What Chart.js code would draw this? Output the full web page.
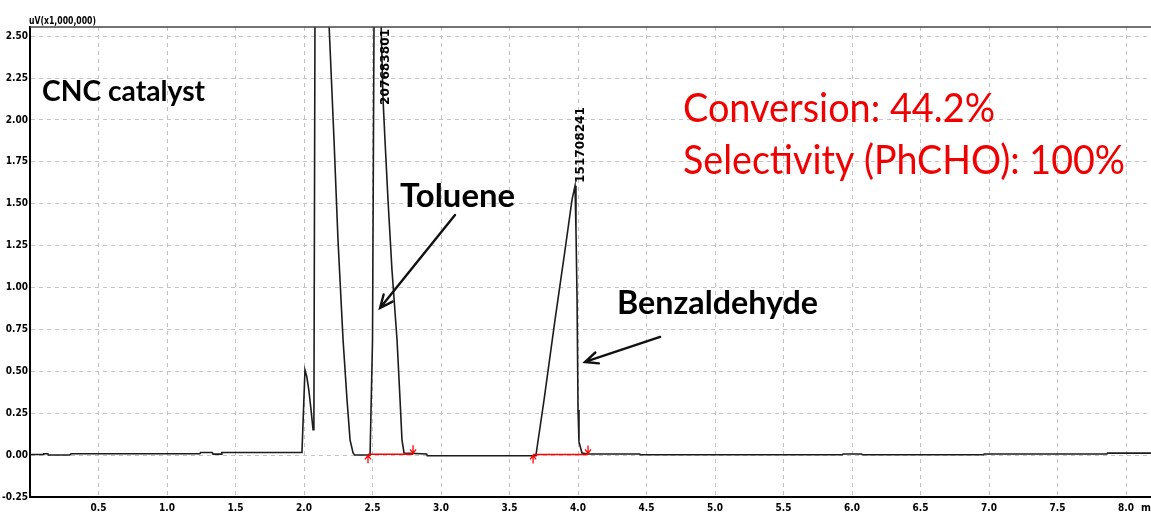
<!DOCTYPE html>
<html>
<head>
<meta charset="utf-8">
<script src="https://cdn.jsdelivr.net/npm/chart.js@4.4.0/dist/chart.umd.min.js"></script>
<style>
  html, body { margin: 0; padding: 0; background: #fff; }
  canvas { display: block; }
</style>
</head>
<body>
<canvas id="gc" width="1151" height="514"></canvas>
<script>

/*
** Chromatogram trace (retention time in min, signal in uV x 1,000,000)
*/
var times = [
    0.000, 0.095, 0.100, 0.130, 0.135, 0.290, 0.300, 1.240, 1.245, 1.330,
    1.336, 1.395, 1.400, 1.985, 2.007, 2.020, 2.035, 2.050, 2.066, 2.072,
    2.080, 2.130, 2.180, 2.197, 2.219, 2.248, 2.285, 2.314, 2.336, 2.358,
    2.370, 2.482, 2.500, 2.511, 2.540, 2.561, 2.577, 2.591, 2.613, 2.642,
    2.679, 2.701, 2.715, 2.730, 2.895, 2.900, 3.686, 3.693, 3.752, 3.832,
    3.905, 3.956, 3.978, 3.985, 3.993, 4.000, 4.007, 4.029, 4.073, 4.450,
    4.455, 5.930, 5.935, 6.070, 6.075, 6.960, 6.965, 7.860, 7.865, 8.200
];
var signal = [
    0.004, 0.004, 0.008, 0.008, 0.001, 0.001, 0.008, 0.008, 0.016, 0.016,
    0.006, 0.006, 0.016, 0.016, 0.508, 0.470, 0.390, 0.280, 0.151, 0.160,
    2.600, 4.500, 2.620, 2.299, 1.881, 1.284, 0.687, 0.329, 0.091, 0.013,
    0.001, 0.001, 0.687, 2.600, 4.200, 2.620, 2.120, 1.881, 1.523, 1.105,
    0.687, 0.329, 0.091, 0.013, 0.007, -0.004, -0.004, 0.001, 0.329, 0.807,
    1.224, 1.523, 1.607, 1.344, 0.926, 0.269, 0.079, 0.013, 0.007, 0.007,
    0.002, 0.002, 0.007, 0.007, 0.002, 0.002, 0.007, 0.007, 0.012, 0.012
];

/*
** Axis ticks
*/
var xTicks = [0.5, 1.0, 1.5, 2.0, 2.5, 3.0, 3.5, 4.0, 4.5, 5.0, 5.5, 6.0, 6.5, 7.0, 7.5, 8.0];
var yTicks = [-0.25, 0.00, 0.25, 0.50, 0.75, 1.00, 1.25, 1.50, 1.75, 2.00, 2.25, 2.50];

/*
** Integrated peaks
*/
var peakNames = ["Toluene", "Benzaldehyde"];
var peakAreas = ["207683801", "151708241"];
var peakStart = [2.467, 3.672];
var peakEnd = [2.796, 4.073];
var peakBase = [0.005, 0.004];

var conversion = 44.2;
var selectivity = 100;

/*
** Where the notes go (data units)
*/
var notes = [
    { text: "CNC catalyst", t: 0.088, v: 2.113, w: 163, font: "bold 29px Lato", color: "#000" },
    { text: peakNames[0], t: 2.701, v: 1.481, w: 115, font: "bold 32px Lato", color: "#000" },
    { text: peakNames[1], t: 4.285, v: 0.842, w: 201, font: "bold 32px Lato", color: "#000" },
    { text: "Conversion: " + conversion.toFixed(1) + "%", t: 4.766, v: 1.988, w: 312, font: "40px Lato", color: "#f00000" },
    { text: "Selectivity (PhCHO): " + selectivity + "%", t: 4.766, v: 1.678, w: 442, font: "40px Lato", color: "#f00000" }
];
var arrows = [
    { t1: 3.102, v1: 1.433, t2: 2.555, v2: 0.878 },
    { t1: 4.599, v1: 0.705, t2: 4.051, v2: 0.556 }
];
var areaLabels = [
    { t: 2.599, v: 2.090 },
    { t: 4.022, v: 1.624 }
];

/*
** Draw text squeezed to a given width
*/
function fitText(ctx, text, x, y, width, font) {
    ctx.font = font;
    var w = ctx.measureText(text).width;
    ctx.save();
    ctx.translate(x, y);
    ctx.scale(width / w, 1);
    ctx.fillText(text, 0, 0);
    ctx.restore();
}

function redMark(ctx, x, y, up) {
    // small integration marker, below the line pointing up or above pointing down
    ctx.beginPath();
    if (up) {
        ctx.moveTo(x, y + 9); ctx.lineTo(x, y + 1);
        ctx.moveTo(x - 3, y + 5); ctx.lineTo(x, y + 1); ctx.lineTo(x + 3, y + 5);
    } else {
        ctx.moveTo(x, y - 9); ctx.lineTo(x, y - 1);
        ctx.moveTo(x - 3, y - 5); ctx.lineTo(x, y - 1); ctx.lineTo(x + 3, y - 5);
    }
    ctx.stroke();
}

var extras = {
    id: "extras",
    afterDraw: function (chart) {
        var ctx = chart.ctx, xs = chart.scales.x, ys = chart.scales.y, area = chart.chartArea;
        ctx.save();

        // top frame line
        ctx.strokeStyle = "#444";
        ctx.lineWidth = 1.5;
        ctx.beginPath();
        ctx.moveTo(area.left, area.top);
        ctx.lineTo(chart.width, area.top);
        ctx.stroke();

        // unit label and cut-off "min"
        ctx.fillStyle = "#000";
        ctx.textAlign = "left";
        ctx.textBaseline = "alphabetic";
        fitText(ctx, "uV(x1,000,000)", area.left - 1, area.top - 3, 67, "bold 11px 'DejaVu Sans Condensed'");
        fitText(ctx, "min", 1141, 511, 20, "bold 11px 'DejaVu Sans Condensed'");

        // integration markers
        ctx.strokeStyle = "#ff0000";
        ctx.lineWidth = 1.3;
        for (var i = 0; i < peakStart.length; i++) {
            redMark(ctx, xs.getPixelForValue(peakStart[i]), ys.getPixelForValue(peakBase[i]), true);
            redMark(ctx, xs.getPixelForValue(peakEnd[i]), ys.getPixelForValue(peakBase[i]), false);
        }

        // peak area labels, rotated
        ctx.fillStyle = "#000";
        ctx.textBaseline = "middle";
        for (var j = 0; j < peakAreas.length; j++) {
            ctx.save();
            ctx.translate(xs.getPixelForValue(areaLabels[j].t), ys.getPixelForValue(areaLabels[j].v));
            ctx.rotate(-Math.PI / 2);
            fitText(ctx, peakAreas[j], 0, 0, 76, "bold 13px 'DejaVu Sans Condensed'");
            ctx.restore();
        }

        // notes
        ctx.textBaseline = "alphabetic";
        notes.forEach(function (n) {
            ctx.fillStyle = n.color;
            fitText(ctx, n.text, xs.getPixelForValue(n.t), ys.getPixelForValue(n.v), n.w, n.font);
        });

        // arrows
        ctx.strokeStyle = "#111";
        ctx.lineWidth = 2.4;
        ctx.lineCap = "round";
        arrows.forEach(function (a) {
            var x1 = xs.getPixelForValue(a.t1), y1 = ys.getPixelForValue(a.v1);
            var x2 = xs.getPixelForValue(a.t2), y2 = ys.getPixelForValue(a.v2);
            var ang = Math.atan2(y2 - y1, x2 - x1), len = 14;
            ctx.beginPath();
            ctx.moveTo(x1, y1); ctx.lineTo(x2, y2);
            ctx.moveTo(x2 - len * Math.cos(ang - 0.42), y2 - len * Math.sin(ang - 0.42));
            ctx.lineTo(x2, y2);
            ctx.lineTo(x2 - len * Math.cos(ang + 0.42), y2 - len * Math.sin(ang + 0.42));
            ctx.stroke();
        });

        ctx.restore();
    }
};

/*
** Build datasets
*/
var trace = times.map(function (t, i) { return { x: t, y: signal[i] }; });
var datasets = [{
    data: trace,
    borderColor: "#1c1c1c",
    borderWidth: 1.6,
    pointRadius: 0,
    tension: 0,
    order: 2
}];
peakStart.forEach(function (s, i) {
    datasets.push({
        data: [{ x: s, y: peakBase[i] }, { x: peakEnd[i], y: peakBase[i] }],
        borderColor: "#ff0000",
        borderWidth: 1.5,
        pointRadius: 0,
        order: 1
    });
});

var tickFont = { family: "'DejaVu Sans Condensed'", size: 10, weight: "bold" };

new Chart(document.getElementById("gc"), {
    type: "line",
    data: { datasets: datasets },
    options: {
        responsive: false,
        animation: false,
        events: [],
        layout: { padding: { top: 27, left: 0, right: 0, bottom: 0 } },
        plugins: { legend: { display: false }, tooltip: { enabled: false } },
        scales: {
            x: {
                type: "linear",
                min: 0,
                max: 8.182,
                afterFit: function (s) { s.height = 17; },
                afterBuildTicks: function (s) { s.ticks = xTicks.map(function (v) { return { value: v }; }); },
                ticks: {
                    color: "#000",
                    font: tickFont,
                    padding: 5,
                    maxRotation: 0,
                    autoSkip: false,
                    callback: function (v) { return Number(v).toFixed(1); }
                },
                grid: { color: "#c4c4c4", lineWidth: 1, drawTicks: false },
                border: { display: true, color: "#000", width: 2, dash: [4, 4] }
            },
            y: {
                min: -0.25,
                max: 2.555,
                afterFit: function (s) { s.width = 30; },
                afterBuildTicks: function (s) { s.ticks = yTicks.map(function (v) { return { value: v }; }); },
                ticks: {
                    color: "#000",
                    font: tickFont,
                    padding: 2,
                    autoSkip: false,
                    callback: function (v) { return Number(v).toFixed(2); }
                },
                grid: { color: "#c4c4c4", lineWidth: 1, drawTicks: false },
                border: { display: true, color: "#000", width: 2, dash: [4, 4] }
            }
        }
    },
    plugins: [extras]
});
</script>
</body>
</html>
